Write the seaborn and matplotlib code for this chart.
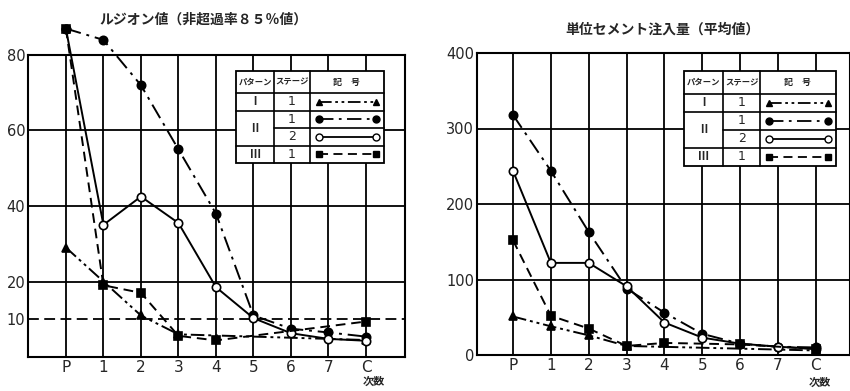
import numpy as np
import pandas as pd
import matplotlib
matplotlib.use("Agg")
import matplotlib.pyplot as plt
import seaborn as sns
from matplotlib.lines import Line2D
from matplotlib.patches import Rectangle

# ---------------- data ----------------
categories = ["P", "1", "2", "3", "4", "5", "6", "7", "C"]
nan = np.nan

# Lugeon value (85% non-exceedance)
lu_I1 = [29, 20, 11, 6, nan, nan, nan, nan, 4.5]
lu_II1 = [87, 84, 72, 55, 38, 11, 7.5, 6.5, 5.4]
lu_II2 = [87, 35, 42.5, 35.5, 18.5, 10.3, 6.3, 4.8, 4.3]
lu_III1 = [87, 19, 17, 5.6, 4.4, nan, nan, nan, 9.4]
lu_ref = 10
lu_ticks = [10, 20, 40, 60, 80]

# Unit cement take (mean)
ce_I1 = [51, 38, 26, 12, nan, nan, nan, nan, 6]
ce_II1 = [318, 244, 163, 88, 56, 28, 15, 11, 10]
ce_II2 = [244, 122, 122, 91, 43, 23, 15, 11, 8]
ce_III1 = [152, 52, 35, 12, 16, nan, 14, nan, 8]
ce_ticks = [0, 100, 200, 300, 400]

title_left = "ルジオン値（非超過率８５％値）"
title_right = "単位セメント注入量（平均値）"
xlabel_txt = "次数"
key_header = ["パターン", "ステージ", "記　号"]
key_pattern = ["Ⅰ", "Ⅱ", "Ⅲ"]
key_stage = ["1", "1", "2", "1"]

# ---------------- style ----------------
sns.set_theme(style="white")
plt.rcParams["font.family"] = ["Noto Sans CJK JP", "DejaVu Sans"]

styles = [
    dict(marker="^", mfc="black", ls=(0, (7, 2, 1.5, 2, 1.5, 2))),
    dict(marker="o", mfc="black", ls=(0, (8, 3, 1.5, 3))),
    dict(marker="o", mfc="white", ls="-"),
    dict(marker="s", mfc="black", ls=(0, (5, 3))),
]

fig = plt.figure(figsize=(8.5, 3.91), dpi=100)
W, H = 850, 391


def axes_px(x0, x1, ytop, ybot):
    return fig.add_axes([x0 / W, 1 - ybot / H, (x1 - x0) / W, (ybot - ytop) / H])


axL = axes_px(28, 405, 55, 357)
axR = axes_px(477, 850, 53, 355)


def draw_series(ax, series_list, clip):
    x = np.arange(len(categories))
    for vals, st in zip(series_list, styles):
        df = pd.DataFrame({"x": x, "y": vals}).dropna()
        sns.lineplot(data=df, x="x", y="y", ax=ax, color="black", lw=1.4,
                     linestyle=st["ls"], marker=st["marker"], markersize=6,
                     markerfacecolor=st["mfc"], markeredgecolor="black",
                     markeredgewidth=1.2, sort=False, clip_on=clip, zorder=4)
    ax.set_xlabel("")
    ax.set_ylabel("")


def setup(ax, ticks, ylim, xlim, grid_h):
    ax.set_xlim(*xlim)
    ax.set_ylim(*ylim)
    ax.set_xticks(np.arange(len(categories)))
    ax.set_xticklabels(categories, fontsize=11, family="DejaVu Sans")
    ax.set_yticks(ticks)
    ax.set_yticklabels([str(t) for t in ticks], fontsize=10.5, family="DejaVu Sans")
    ax.tick_params(length=0, pad=2)
    for s in ax.spines.values():
        s.set_color("black")
        s.set_linewidth(1.5)
    for xi in range(len(categories)):
        ax.axvline(xi, color="black", lw=1.3, zorder=1)
    for yv in grid_h:
        ax.axhline(yv, color="black", lw=1.3, zorder=1)
    ax.patch.set_alpha(0)


def draw_key(ax, x0, x1, y0, y1, c1, c2):
    T = ax.transAxes
    ax.add_patch(Rectangle((x0, y0), x1 - x0, y1 - y0, transform=T, facecolor="white",
                           edgecolor="black", lw=1.3, zorder=5, clip_on=False))
    h = y1 - y0
    hh = 0.24 * h
    rh = (h - hh) / 4
    rows_top = [y1 - hh - i * rh for i in range(5)]
    kw = dict(transform=T, color="black", lw=1.2, zorder=6, clip_on=False)
    ax.add_line(Line2D([c1, c1], [y0, y1], **kw))
    ax.add_line(Line2D([c2, c2], [y0, y1], **kw))
    ax.add_line(Line2D([x0, x1], [rows_top[0]] * 2, **kw))
    ax.add_line(Line2D([x0, x1], [rows_top[1]] * 2, **kw))
    ax.add_line(Line2D([c1, x1], [rows_top[2]] * 2, **kw))
    ax.add_line(Line2D([x0, x1], [rows_top[3]] * 2, **kw))
    tk = dict(transform=T, ha="center", va="center", zorder=7, fontweight="bold")
    ycen_h = y1 - hh / 2
    ax.text((x0 + c1) / 2, ycen_h, key_header[0], fontsize=6, **tk)
    ax.text((c1 + c2) / 2, ycen_h, key_header[1], fontsize=6, **tk)
    ax.text((c2 + x1) / 2, ycen_h, key_header[2], fontsize=6.5, **tk)
    rc = [rows_top[i] - rh / 2 for i in range(4)]
    ax.text((x0 + c1) / 2, rc[0], key_pattern[0], fontsize=8, **tk)
    ax.text((x0 + c1) / 2, (rc[1] + rc[2]) / 2, key_pattern[1], fontsize=8, **tk)
    ax.text((x0 + c1) / 2, rc[3], key_pattern[2], fontsize=8, **tk)
    for i in range(4):
        ax.text((c1 + c2) / 2, rc[i], key_stage[i], fontsize=9, family="DejaVu Sans",
                transform=T, ha="center", va="center", zorder=7)
        st = styles[i]
        a = c2 + 0.12 * (x1 - c2)
        b = x1 - 0.1 * (x1 - c2)
        ax.add_line(Line2D([a, b], [rc[i], rc[i]], transform=T, color="black", lw=1.3,
                           linestyle=st["ls"], marker=st["marker"], markersize=5,
                           markerfacecolor=st["mfc"], markeredgecolor="black",
                           zorder=7, clip_on=False))


# Left chart
setup(axL, lu_ticks, (0, 80), (-1.01, 9.04), [20, 40, 60])
axL.axhline(lu_ref, color="black", lw=1.3, linestyle=(0, (6, 3)), zorder=2)
draw_series(axL, [lu_I1, lu_II1, lu_II2, lu_III1], clip=False)
draw_key(axL, 0.552, 0.944, 0.642, 0.947, 0.653, 0.748)

# Right chart
setup(axR, ce_ticks, (0, 400), (-0.95, 8.9), [100, 200, 300])
draw_series(axR, [ce_I1, ce_II1, ce_II2, ce_III1], clip=True)
draw_key(axR, 0.555, 0.962, 0.626, 0.940, 0.660, 0.759)

fig.text(204 / W, 1 - 20 / H, title_left, ha="center", va="center", fontsize=10, fontweight="bold")
fig.text(662 / W, 1 - 30 / H, title_right, ha="center", va="center", fontsize=10, fontweight="bold")
fig.text(374 / W, 1 - 381 / H, xlabel_txt, ha="center", va="center", fontsize=8, fontweight="bold")
fig.text(820 / W, 1 - 382 / H, xlabel_txt, ha="center", va="center", fontsize=8, fontweight="bold")

fig.savefig("out.png", dpi=100, facecolor="white")
